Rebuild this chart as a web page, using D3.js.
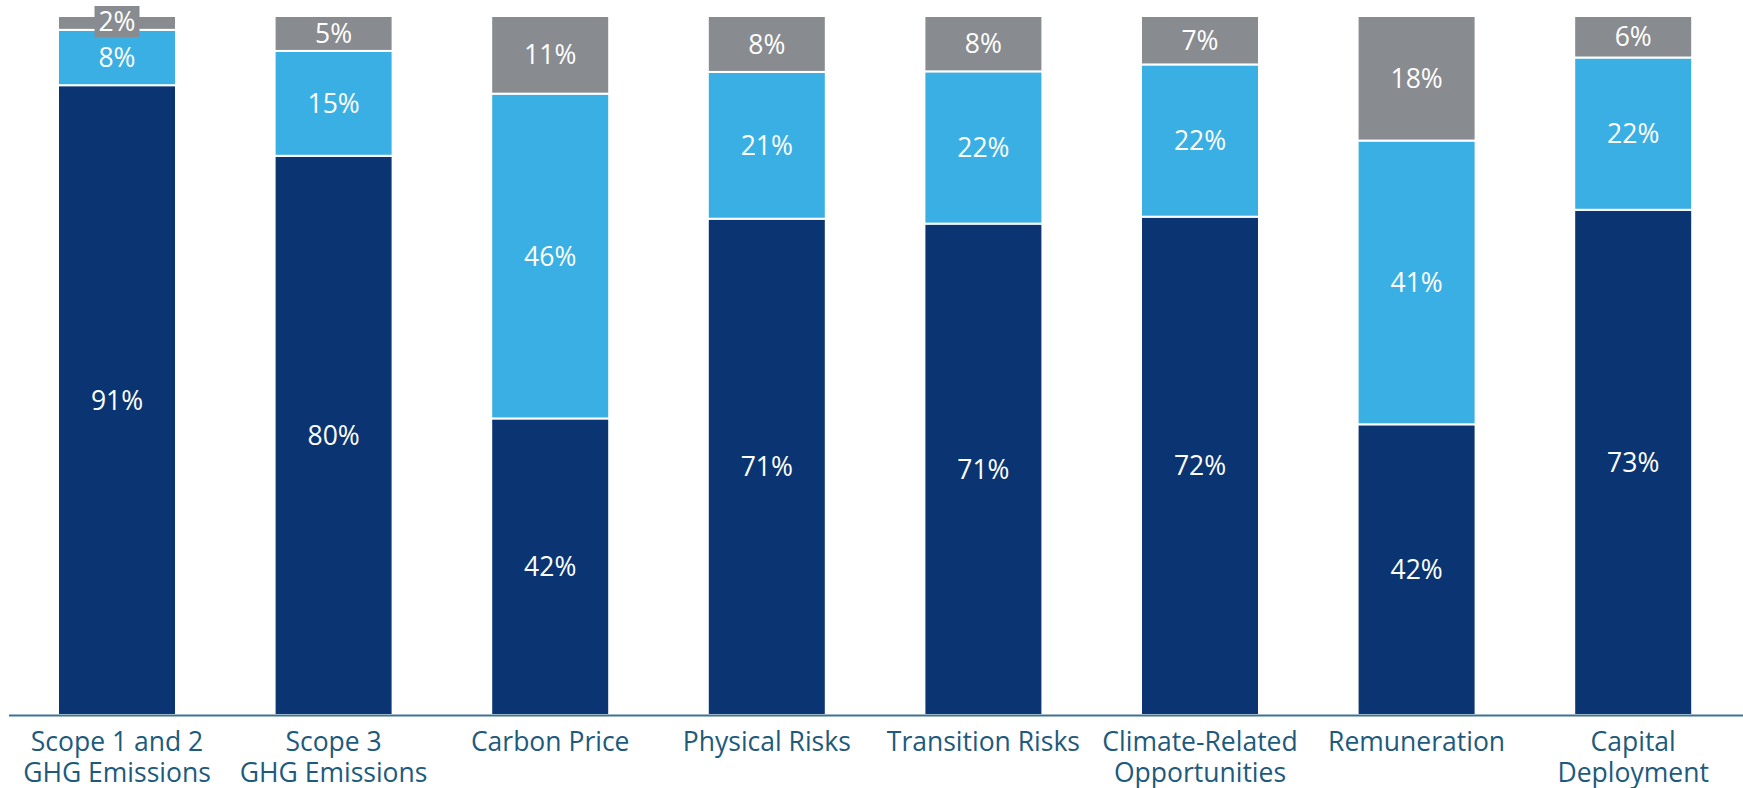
<!DOCTYPE html>
<html><head><meta charset="utf-8">
<script src="https://cdn.jsdelivr.net/npm/d3@7"></script>
<style>body{margin:0;background:#fff;} svg{display:block;font-family:"Open Sans",sans-serif;}</style>
</head><body><svg id="c" width="1743" height="788"></svg>
<script>
const categories = [["Scope 1 and 2","GHG Emissions"],["Scope 3","GHG Emissions"],["Carbon Price"],["Physical Risks"],["Transition Risks"],["Climate-Related","Opportunities"],["Remuneration"],["Capital","Deployment"]];
const seriesA = [91,80,42,71,71,72,42,73];
const seriesB = [8,15,46,21,22,22,41,22];
const seriesC = [2,5,11,8,8,7,18,6];
const colors = ["#0a3572","#3aafe3","#888b8f"];

const svg = d3.select("#c");
const W = 1743, H = 788;
const y0 = 715, yTop = 16;
const step = 216.6, bw = 118;
const x = d3.scaleBand().domain(d3.range(categories.length))
  .range([58, 58 + 7*step + bw]).paddingInner(1 - bw/step).paddingOuter(0);
const y = d3.scaleLinear().domain([0,1]).range([y0, yTop]);

const rows = categories.map((c,i)=>({i, a:seriesA[i], b:seriesB[i], c:seriesC[i]}));
const stack = d3.stack().keys(["a","b","c"]).offset(d3.stackOffsetExpand);
const layers = stack(rows);

const g = svg.append("g");
layers.forEach((layer,li)=>{
  g.selectAll(null).data(layer).enter().append("rect")
    .attr("x", d=>x(d.data.i))
    .attr("width", x.bandwidth())
    .attr("y", d=>y(d[1]))
    .attr("height", d=>y(d[0])-y(d[1]))
    .attr("fill", colors[li])
    .attr("stroke","#fff").attr("stroke-width",2);
});
// labels
layers.forEach((layer,li)=>{
  layer.forEach(d=>{
    const v = d.data[layer.key];
    const cx = x(d.data.i)+x.bandwidth()/2;
    const h = y(d[0])-y(d[1]);
    let cy = (y(d[0])+y(d[1]))/2;
    if (h < 28) {
      cy = 21.5;
      g.append("rect").attr("x", cx-22.5).attr("y", 6).attr("width",45).attr("height",31).attr("fill",colors[li]);
    }
    g.append("text").attr("x",cx).attr("y",cy).attr("dy","0.36em")
      .attr("text-anchor","middle").attr("fill","#fff").attr("font-size",26.5).text(v+"%");
  });
});
// axis
svg.append("line").attr("x1",9).attr("x2",W).attr("y1",y0+0.5).attr("y2",y0+0.5).attr("stroke","#3a7393").attr("stroke-width",2);
categories.forEach((c,i)=>{
  const cx = x(i)+x.bandwidth()/2;
  const t = svg.append("text").attr("x", cx).attr("y", 751).attr("text-anchor","middle")
    .attr("fill","#1d5a7c").attr("font-size",26.5);
  c.forEach((line,k)=>t.append("tspan").attr("x", cx).attr("y", 751+k*31).text(line));
});
</script></body></html>
